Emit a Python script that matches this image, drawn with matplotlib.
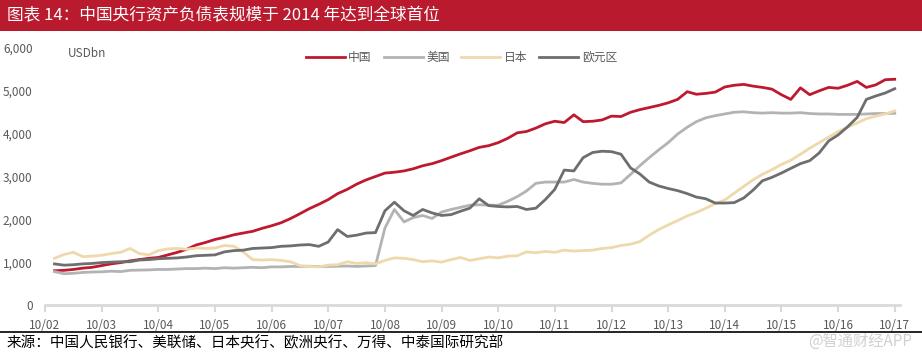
"""Central bank balance sheet sizes: China, US, Japan, Euro area."""

import matplotlib
matplotlib.use("Agg")
import matplotlib.pyplot as plt
from matplotlib.patches import Rectangle
from matplotlib.lines import Line2D
import pandas as pd

plt.rcParams["font.family"] = ["Noto Sans CJK SC", "DejaVu Sans"]

# bi-monthly observations, Dec 2002 .. Oct 2017 (USD bn)
dates = pd.date_range("2002-12-01", periods=90, freq="2MS")

china = [
    800, 810, 830, 860, 880, 920, 960, 990, 1030, 1060,
    1090, 1110, 1170, 1230, 1300, 1400, 1460, 1530, 1580, 1640,
    1680, 1720, 1790, 1850, 1920, 2020, 2130, 2248, 2350, 2460,
    2600, 2700, 2820, 2920, 3000, 3080, 3100, 3130, 3180, 3250,
    3300, 3370, 3450, 3530, 3600, 3680, 3720, 3790, 3890, 4020,
    4050, 4130, 4230, 4290, 4260, 4440, 4280, 4290, 4320, 4410,
    4400, 4500, 4560, 4610, 4660, 4720, 4800, 4980, 4920, 4940,
    4970, 5090, 5130, 5150, 5110, 5080, 5040, 4910, 4800, 5070,
    4910, 5000, 5080, 5060, 5130, 5220, 5080, 5140, 5260, 5270,
]
usa = [
    780, 730, 740, 760, 770, 775, 790, 780, 810, 815,
    820, 830, 830, 840, 850, 850, 860, 850, 870, 860,
    870, 880, 870, 890, 890, 900, 900, 905, 900, 900,
    905, 910, 900, 910, 920, 1800, 2230, 1940, 2040, 2090,
    2020, 2170, 2230, 2280, 2330, 2340, 2330, 2330, 2420, 2530,
    2660, 2840, 2870, 2870, 2870, 2930, 2870, 2840, 2820, 2820,
    2850, 3050, 3250, 3440, 3620, 3790, 3990, 4150, 4280, 4370,
    4420, 4460, 4500, 4510, 4490, 4480, 4490, 4480, 4480, 4490,
    4470, 4460, 4460, 4450, 4450, 4450, 4460, 4470, 4470, 4475,
]
japan = [
    1090, 1180, 1230, 1130, 1140, 1160, 1200, 1230, 1320, 1200,
    1170, 1270, 1310, 1320, 1300, 1330, 1320, 1330, 1390, 1370,
    1240, 1060, 1050, 1060, 1040, 1010, 920, 900, 890, 930,
    940, 1010, 970, 990, 960, 1040, 1100, 1090, 1060, 1010,
    1030, 1000, 1060, 1110, 1040, 1080, 1120, 1100, 1140, 1150,
    1240, 1220, 1250, 1230, 1280, 1260, 1270, 1280, 1320, 1340,
    1390, 1420, 1480, 1630, 1760, 1870, 1970, 2080, 2160, 2260,
    2370, 2450, 2610, 2770, 2920, 3050, 3160, 3280, 3380, 3520,
    3660, 3790, 3920, 4050, 4150, 4250, 4350, 4410, 4460, 4530,
]
euro = [
    960, 930, 940, 960, 970, 990, 1000, 1010, 1010, 1050,
    1060, 1080, 1090, 1100, 1120, 1150, 1160, 1170, 1240, 1270,
    1280, 1320, 1330, 1340, 1370, 1380, 1400, 1410, 1370, 1470,
    1760, 1600, 1630, 1680, 1690, 2200, 2400, 2200, 2090, 2230,
    2150, 2090, 2110, 2190, 2260, 2480, 2320, 2300, 2290, 2300,
    2230, 2260, 2460, 2700, 3150, 3130, 3440, 3560, 3590, 3580,
    3520, 3200, 3060, 2870, 2780, 2720, 2670, 2600, 2520, 2480,
    2380, 2380, 2390, 2500, 2680, 2900, 2980, 3080, 3190, 3300,
    3370, 3550, 3830, 3970, 4160, 4380, 4800, 4880, 4950, 5050,
]

series_names = ["中国", "美国", "日本", "欧元区"]
series_colors = ["#BE1A2F", "#B3B3B3", "#EFD9AC", "#6E6E6E"]
tick_years = list(range(2002, 2018))
x_tick_labels = [f"10/{y % 100:02d}" for y in tick_years]
y_ticks = [0, 1000, 2000, 3000, 4000, 5000, 6000]

title = "图表 14：中国央行资产负债表规模于 2014 年达到全球首位"
source = "来源：中国人民银行、美联储、日本央行、欧洲央行、万得、中泰国际研究部"

W, H = 922, 353
fig = plt.figure(figsize=(W / 100, H / 100), dpi=100)

# header bar
fig.patches.append(Rectangle((0, 1 - 31 / H), 1, 31 / H, transform=fig.transFigure,
                             facecolor="#BA1A2E", edgecolor="none"))
fig.text(7 / W, 1 - 16 / H, title, color="white", fontsize=12, va="center", ha="left")

ax = fig.add_axes([45 / W, 48 / H, 855 / W, 257 / H])
for vals, name, col in zip([china, usa, japan, euro], series_names, series_colors):
    ax.plot(dates, vals, color=col, lw=2.0, label=name, solid_joinstyle="round")

ax.set_xlim(pd.Timestamp("2002-10-01"), pd.Timestamp("2017-11-04"))
ax.set_ylim(0, 6000)
ax.set_xticks([pd.Timestamp(f"{y}-10-01") for y in tick_years])
ax.set_xticklabels(x_tick_labels)
ax.set_yticks(y_ticks)
ax.set_yticklabels([f"{v:,}" for v in y_ticks])

for s in ["top", "right", "left"]:
    ax.spines[s].set_visible(False)
ax.spines["bottom"].set_color("#D9D9D9")
ax.spines["bottom"].set_linewidth(2)
ax.tick_params(axis="x", direction="out", length=5, width=1.5, color="#D9D9D9",
               labelcolor="#595959", labelsize=8.5, pad=5)
ax.tick_params(axis="y", length=0, labelcolor="#595959", labelsize=8.5, pad=9)

ax.text(23 / 855, 0.98, "USDbn", transform=ax.transAxes, fontsize=8.5,
        color="#595959", va="center", ha="left")

ax.legend(loc="center", bbox_to_anchor=(0.487, 0.962), ncol=4, frameon=False,
          fontsize=8.5, handlelength=3.3, handletextpad=0.3, columnspacing=1.0,
          labelcolor="#595959")

# footer
fig.add_artist(Line2D([0, 1], [1 - 332 / H, 1 - 332 / H], transform=fig.transFigure,
                      color="black", lw=1.2))
fig.text(7 / W, 1 - 343 / H, source, color="black", fontsize=10.5, va="center", ha="left")
fig.text(912 / W, 1 - 341 / H, "@智通财经APP", color="#D0D0D0", fontsize=11,
         va="center", ha="right")

fig.savefig("out.png", dpi=100)
